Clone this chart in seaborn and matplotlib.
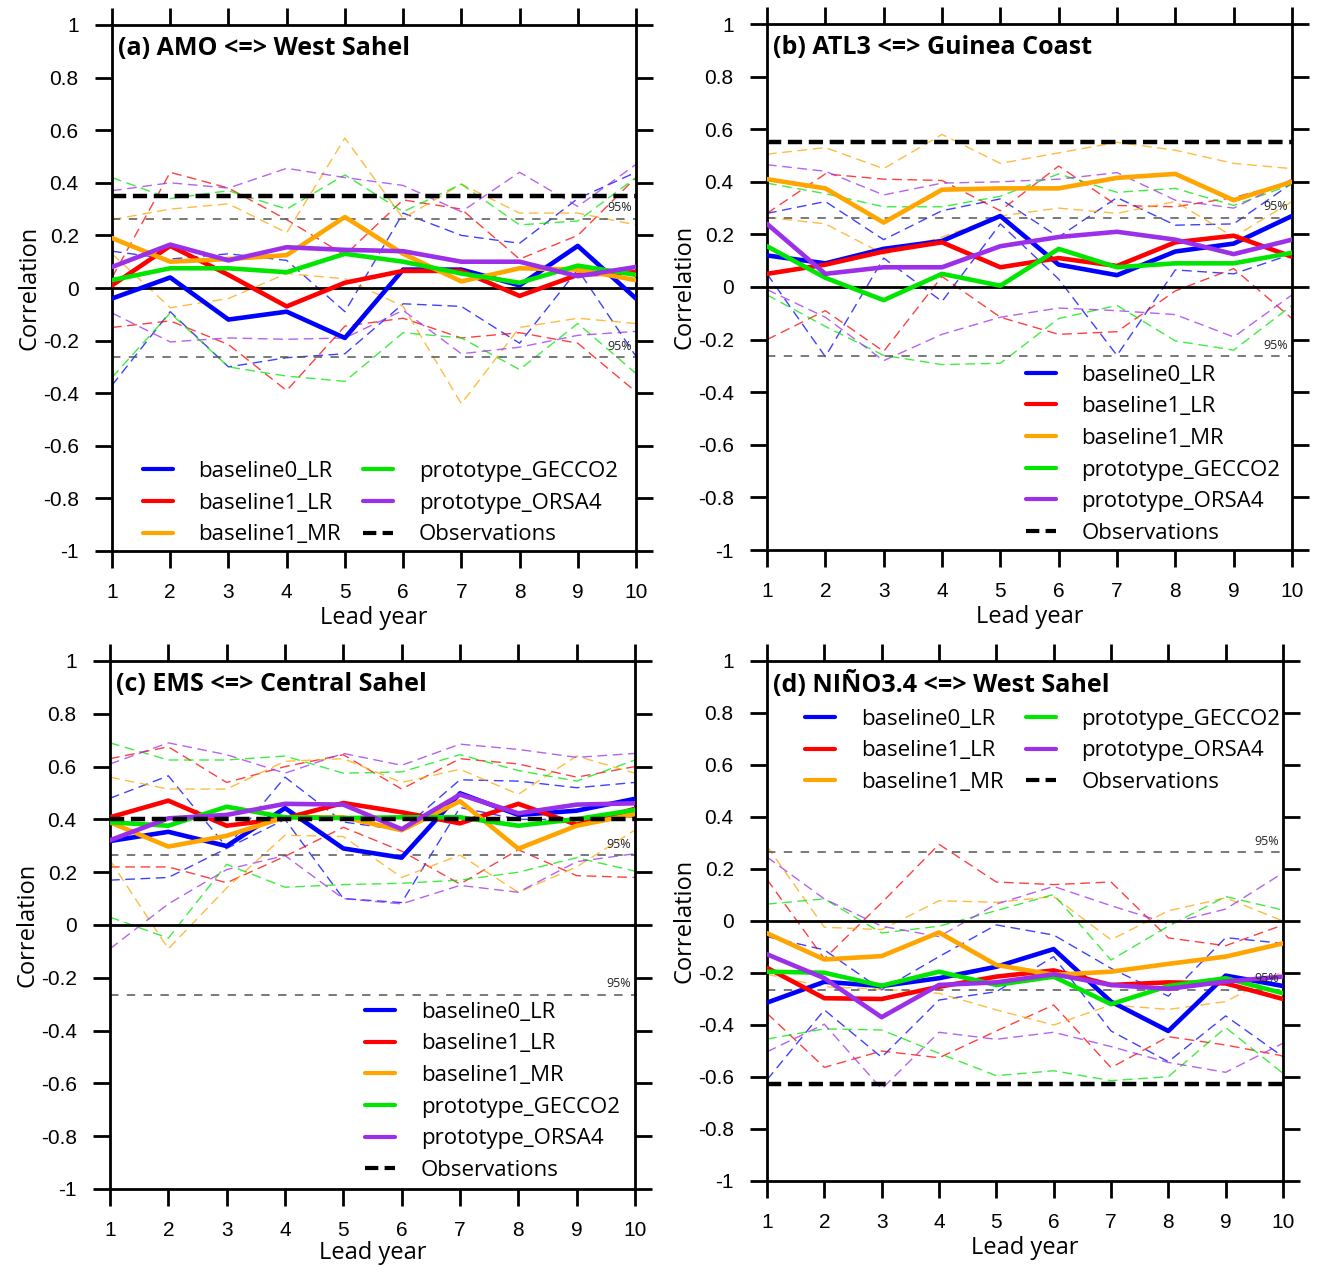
import matplotlib
matplotlib.use("Agg")
import matplotlib.pyplot as plt
from matplotlib.lines import Line2D
import seaborn as sns
import numpy as np

# ---------------------------------------------------------------- data
LEAD = list(range(1, 11))
MODELS = ["baseline0_LR", "baseline1_LR", "baseline1_MR",
          "prototype_GECCO2", "prototype_ORSA4"]
COLORS = ["#0000FF", "#FF0000", "#FFA500", "#00E600", "#9B30E8"]
SIG95 = 0.264
YTICKS = [1, 0.8, 0.6, 0.4, 0.2, 0, -0.2, -0.4, -0.6, -0.8, -1]
YTICKLABELS = ["1", "0.8", "0.6", "0.4", "0.2", "0", "-0.2", "-0.4",
               "-0.6", "-0.8", "-1"]

# (a) AMO <=> West Sahel
AMO_MEAN = {
    "baseline0_LR": [-0.04, 0.04, -0.12, -0.09, -0.19, 0.07, 0.07, 0.01, 0.16, -0.04],
    "baseline1_LR": [0.01, 0.16, 0.05, -0.07, 0.02, 0.065, 0.065, -0.03, 0.05, 0.06],
    "baseline1_MR": [0.19, 0.10, 0.11, 0.125, 0.27, 0.13, 0.025, 0.075, 0.07, 0.03],
    "prototype_GECCO2": [0.03, 0.075, 0.075, 0.06, 0.13, 0.10, 0.055, 0.02, 0.085, 0.05],
    "prototype_ORSA4": [0.08, 0.165, 0.105, 0.155, 0.145, 0.14, 0.10, 0.10, 0.045, 0.08],
}
AMO_HI = {
    "baseline0_LR": [0.14, 0.11, 0.13, 0.105, -0.09, 0.285, 0.20, 0.17, 0.34, 0.44],
    "baseline1_LR": [0.04, 0.44, 0.38, 0.26, 0.125, 0.335, 0.30, 0.11, 0.20, 0.42],
    "baseline1_MR": [0.26, 0.30, 0.32, 0.21, 0.57, 0.265, 0.395, 0.285, 0.285, 0.24],
    "prototype_GECCO2": [0.42, 0.34, 0.37, 0.30, 0.43, 0.29, 0.395, 0.24, 0.255, 0.42],
    "prototype_ORSA4": [0.37, 0.40, 0.38, 0.455, 0.42, 0.39, 0.29, 0.44, 0.31, 0.47],
}
AMO_LO = {
    "baseline0_LR": [-0.37, -0.09, -0.30, -0.265, -0.25, -0.06, -0.07, -0.21, 0.07, -0.26],
    "baseline1_LR": [-0.15, -0.125, -0.215, -0.39, -0.145, -0.115, -0.19, -0.17, -0.21, -0.395],
    "baseline1_MR": [0.13, -0.075, -0.04, 0.055, 0.035, -0.07, -0.44, -0.15, -0.115, -0.135],
    "prototype_GECCO2": [-0.34, -0.095, -0.30, -0.335, -0.355, -0.17, -0.19, -0.31, -0.135, -0.325],
    "prototype_ORSA4": [-0.095, -0.205, -0.19, -0.195, -0.19, -0.085, -0.25, -0.225, -0.18, -0.165],
}
AMO_OBS = 0.35

# (b) ATL3 <=> Guinea Coast
ATL_MEAN = {
    "baseline0_LR": [0.12, 0.09, 0.145, 0.175, 0.27, 0.085, 0.045, 0.135, 0.165, 0.27],
    "baseline1_LR": [0.05, 0.085, 0.135, 0.17, 0.075, 0.11, 0.08, 0.17, 0.195, 0.115],
    "baseline1_MR": [0.41, 0.375, 0.245, 0.37, 0.375, 0.375, 0.415, 0.43, 0.33, 0.40],
    "prototype_GECCO2": [0.155, 0.035, -0.05, 0.05, 0.005, 0.145, 0.075, 0.09, 0.09, 0.13],
    "prototype_ORSA4": [0.24, 0.05, 0.075, 0.075, 0.155, 0.19, 0.21, 0.18, 0.125, 0.18],
}
ATL_HI = {
    "baseline0_LR": [0.28, 0.325, 0.18, 0.29, 0.335, 0.19, 0.34, 0.235, 0.24, 0.395],
    "baseline1_LR": [0.28, 0.43, 0.41, 0.405, 0.29, 0.46, 0.31, 0.305, 0.34, 0.40],
    "baseline1_MR": [0.505, 0.53, 0.45, 0.58, 0.47, 0.51, 0.55, 0.52, 0.47, 0.45],
    "prototype_GECCO2": [0.395, 0.355, 0.305, 0.305, 0.345, 0.43, 0.36, 0.375, 0.31, 0.39],
    "prototype_ORSA4": [0.465, 0.44, 0.35, 0.395, 0.40, 0.41, 0.435, 0.33, 0.30, 0.41],
}
ATL_LO = {
    "baseline0_LR": [0.05, -0.265, 0.11, -0.055, 0.24, 0.03, -0.26, 0.065, 0.05, 0.125],
    "baseline1_LR": [-0.20, -0.09, -0.245, 0.04, -0.115, -0.18, -0.17, -0.015, 0.07, -0.12],
    "baseline1_MR": [0.265, 0.24, 0.125, 0.19, 0.27, 0.30, 0.28, 0.325, 0.19, 0.325],
    "prototype_GECCO2": [-0.03, -0.15, -0.26, -0.295, -0.29, -0.12, -0.07, -0.205, -0.24, -0.07],
    "prototype_ORSA4": [-0.01, -0.115, -0.28, -0.18, -0.115, -0.08, -0.09, -0.105, -0.19, -0.03],
}
ATL_OBS = 0.55

# (c) EMS <=> Central Sahel
EMS_MEAN = {
    "baseline0_LR": [0.318, 0.353, 0.299, 0.443, 0.29, 0.255, 0.499, 0.417, 0.433, 0.478],
    "baseline1_LR": [0.408, 0.471, 0.376, 0.404, 0.462, 0.427, 0.385, 0.459, 0.38, 0.44],
    "baseline1_MR": [0.389, 0.297, 0.338, 0.408, 0.408, 0.359, 0.469, 0.289, 0.376, 0.42],
    "prototype_GECCO2": [0.389, 0.376, 0.448, 0.408, 0.405, 0.408, 0.408, 0.376, 0.401, 0.436],
    "prototype_ORSA4": [0.321, 0.404, 0.417, 0.459, 0.456, 0.363, 0.494, 0.423, 0.456, 0.461],
}
EMS_HI = {
    "baseline0_LR": [0.48, 0.565, 0.295, 0.56, 0.39, 0.36, 0.55, 0.545, 0.52, 0.54],
    "baseline1_LR": [0.63, 0.675, 0.54, 0.60, 0.645, 0.515, 0.63, 0.61, 0.56, 0.60],
    "baseline1_MR": [0.56, 0.515, 0.515, 0.62, 0.63, 0.54, 0.59, 0.495, 0.64, 0.575],
    "prototype_GECCO2": [0.69, 0.625, 0.625, 0.64, 0.575, 0.58, 0.645, 0.585, 0.545, 0.625],
    "prototype_ORSA4": [0.61, 0.69, 0.645, 0.575, 0.65, 0.605, 0.685, 0.665, 0.635, 0.65],
}
EMS_LO = {
    "baseline0_LR": [0.17, 0.18, 0.29, 0.40, 0.10, 0.085, 0.445, 0.40, 0.40, 0.41],
    "baseline1_LR": [0.22, 0.22, 0.16, 0.26, 0.37, 0.28, 0.155, 0.285, 0.187, 0.18],
    "baseline1_MR": [0.245, -0.09, 0.14, 0.34, 0.335, 0.18, 0.265, 0.124, 0.22, 0.36],
    "prototype_GECCO2": [0.03, -0.05, 0.23, 0.143, 0.153, 0.158, 0.17, 0.20, 0.255, 0.204],
    "prototype_ORSA4": [-0.09, 0.08, 0.21, 0.263, 0.10, 0.08, 0.15, 0.124, 0.24, 0.27],
}
EMS_OBS = 0.40

# (d) NIÑO3.4 <=> West Sahel
NINO_MEAN = {
    "baseline0_LR": [-0.314, -0.234, -0.25, -0.22, -0.176, -0.108, -0.31, -0.423, -0.21, -0.25],
    "baseline1_LR": [-0.18, -0.297, -0.30, -0.253, -0.214, -0.19, -0.246, -0.236, -0.24, -0.30],
    "baseline1_MR": [-0.047, -0.148, -0.135, -0.044, -0.169, -0.207, -0.195, -0.165, -0.137, -0.086],
    "prototype_GECCO2": [-0.195, -0.199, -0.249, -0.195, -0.246, -0.214, -0.32, -0.25, -0.22, -0.278],
    "prototype_ORSA4": [-0.128, -0.22, -0.37, -0.246, -0.236, -0.205, -0.246, -0.261, -0.233, -0.214],
}
NINO_HI = {
    "baseline0_LR": [-0.06, -0.111, -0.265, -0.137, -0.015, -0.054, -0.182, -0.289, -0.064, -0.086],
    "baseline1_LR": [0.16, -0.145, 0.07, 0.295, 0.15, 0.14, 0.15, -0.065, -0.095, -0.015],
    "baseline1_MR": [0.288, -0.024, -0.033, 0.078, 0.072, 0.094, -0.072, 0.039, 0.089, 0.0],
    "prototype_GECCO2": [0.065, 0.085, -0.046, -0.02, 0.04, 0.102, -0.15, -0.02, 0.094, 0.042],
    "prototype_ORSA4": [0.246, 0.085, -0.02, -0.06, 0.065, 0.133, 0.059, -0.01, 0.046, 0.185],
}
NINO_LO = {
    "baseline0_LR": [-0.611, -0.342, -0.524, -0.304, -0.272, -0.137, -0.423, -0.541, -0.365, -0.522],
    "baseline1_LR": [-0.355, -0.563, -0.50, -0.526, -0.423, -0.323, -0.564, -0.445, -0.477, -0.519],
    "baseline1_MR": [-0.205, -0.253, -0.262, -0.278, -0.342, -0.40, -0.323, -0.34, -0.31, -0.195],
    "prototype_GECCO2": [-0.454, -0.415, -0.419, -0.509, -0.595, -0.576, -0.614, -0.599, -0.41, -0.586],
    "prototype_ORSA4": [-0.503, -0.397, -0.646, -0.428, -0.455, -0.428, -0.483, -0.544, -0.582, -0.47],
}
NINO_OBS = -0.627

TITLES = ["(a) AMO <=> West Sahel", "(b) ATL3 <=> Guinea Coast",
          "(c) EMS <=> Central Sahel", "(d) NIÑO3.4 <=> West Sahel"]

# ---------------------------------------------------------------- style
sns.set_style("ticks")
plt.rcParams["font.family"] = ["Open Sans", "DejaVu Sans"]
plt.rcParams["axes.unicode_minus"] = False
for key in ("axes.edgecolor", "axes.labelcolor", "text.color",
            "xtick.color", "ytick.color"):
    plt.rcParams[key] = "black"

W, H = 1318, 1266
fig = plt.figure(figsize=(W / 100, H / 100), dpi=100)


def px_rect(left, top, right, bottom):
    return [left / W, 1 - bottom / H, (right - left) / W, (bottom - top) / H]


# panel rectangles (pixel edges) and legend placement
PANELS = [
    dict(rect=px_rect(112, 25, 636, 551), mean=AMO_MEAN, hi=AMO_HI, lo=AMO_LO,
         obs=AMO_OBS, ncol=2, anchor=(0.059, 0.091), xpad=3),
    dict(rect=px_rect(767, 24, 1292, 550), mean=ATL_MEAN, hi=ATL_HI, lo=ATL_LO,
         obs=ATL_OBS, ncol=1, anchor=(0.493, 0.182), xpad=3),
    dict(rect=px_rect(110, 661, 635, 1189), mean=EMS_MEAN, hi=EMS_HI, lo=EMS_LO,
         obs=EMS_OBS, ncol=1, anchor=(0.486, 0.185), xpad=0.5),
    dict(rect=px_rect(767, 661, 1283, 1181), mean=NINO_MEAN, hi=NINO_HI, lo=NINO_LO,
         obs=NINO_OBS, ncol=2, anchor=(0.074, 0.827), xpad=3),
]

DASH_THIN = (0, (7, 4))
DASH_OBS = (0, (3.2, 1.5))
DASH_SIG = (0, (5.5, 5.5))
TICK_FONT = ["Liberation Sans", "DejaVu Sans"]

for i, p in enumerate(PANELS):
    ax = fig.add_axes(p["rect"])

    # spread lines (thin dashed)
    for m, c in zip(MODELS, COLORS):
        for bound in (p["hi"][m], p["lo"][m]):
            sns.lineplot(x=LEAD, y=bound, ax=ax, color=c, linewidth=1.0,
                         linestyle=DASH_THIN, alpha=0.75, zorder=2)

    # 95% significance levels
    for s in (SIG95, -SIG95):
        ax.axhline(s, color="#555555", linewidth=1.1, linestyle=DASH_SIG, zorder=2.5)
        ax.text(9.93, s + 0.018, "95%", ha="right", va="bottom", fontsize=9,
                color="#222222", zorder=5)

    ax.axhline(0, color="black", linewidth=2.0, zorder=2.6)

    # ensemble-mean correlations
    for m, c in zip(MODELS, COLORS):
        sns.lineplot(x=LEAD, y=p["mean"][m], ax=ax, color=c, linewidth=3.3,
                     zorder=3)

    # observed correlation
    ax.axhline(p["obs"], color="black", linewidth=3.2, linestyle=DASH_OBS, zorder=4)

    ax.set_xlim(1, 10)
    ax.set_ylim(-1, 1)
    ax.set_xticks(LEAD)
    ax.set_xticklabels([str(v) for v in LEAD], family=TICK_FONT)
    ax.set_yticks(YTICKS)
    ax.set_yticklabels(YTICKLABELS, family=TICK_FONT)
    ax.tick_params(axis="both", direction="out", length=12, width=2.0,
                   top=True, right=True, labelsize=15)
    ax.tick_params(axis="y", pad=12)
    ax.tick_params(axis="x", pad=11)
    for sp in ax.spines.values():
        sp.set_linewidth(2.0)
        sp.set_visible(True)

    ax.set_xlabel("Lead year", fontsize=17, labelpad=p["xpad"])
    ax.set_ylabel("Correlation", fontsize=17, labelpad=1)

    ax.text(0.012, 0.955, TITLES[i], transform=ax.transAxes, fontsize=18,
            fontweight="bold", va="center", ha="left", zorder=6)

    handles = [Line2D([], [], color=c, linewidth=3.0) for c in COLORS]
    handles.append(Line2D([], [], color="black", linewidth=3.0, linestyle=DASH_OBS))
    labels = MODELS + ["Observations"]
    ax.legend(handles, labels, ncol=p["ncol"], loc="center left",
              bbox_to_anchor=p["anchor"], frameon=False, fontsize=16,
              handlelength=1.35, handletextpad=1.15, columnspacing=1.0,
              labelspacing=0.48, borderpad=0, borderaxespad=0)

fig.savefig("out.png", dpi=100)
